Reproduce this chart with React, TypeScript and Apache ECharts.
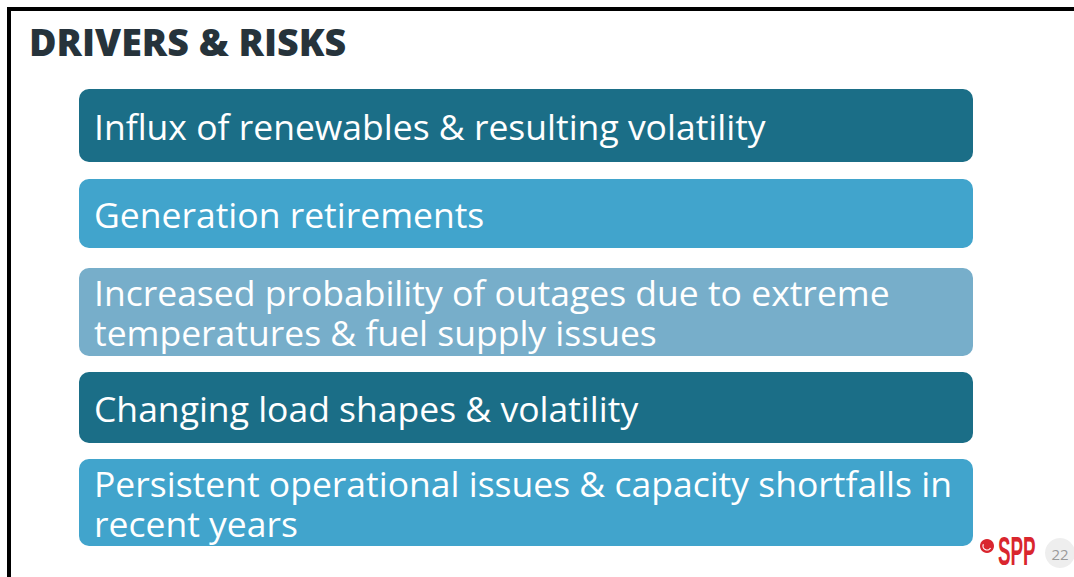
import React, { useEffect, useRef } from "react";
import * as echarts from "echarts";

const titleText = "DRIVERS & RISKS";
const itemLines: string[][] = [
  ["Influx of renewables & resulting volatility"],
  ["Generation retirements"],
  ["Increased probability of outages due to extreme", "temperatures & fuel supply issues"],
  ["Changing load shapes & volatility"],
  ["Persistent operational issues & capacity shortfalls in", "recent years"],
];
const itemColors = ["#1b6e87", "#41a4cc", "#77aeca", "#1b6e87", "#41a4cc"];
const boxTops = [89, 179, 268, 372, 459];
const boxBottoms = [162, 248, 356, 443, 546];
const pageNumber = "22";
const logoText = "SPP";

export default function App() {
  const ref = useRef<HTMLDivElement>(null);
  useEffect(() => {
    if (!ref.current) return;
    const chart = echarts.init(ref.current, undefined, { renderer: "svg" });
    const elements: any[] = [];
    // frame
    elements.push({ type: "rect", shape: { x: 7, y: 7, width: 1074, height: 4 }, style: { fill: "#000" } });
    elements.push({ type: "rect", shape: { x: 7, y: 7, width: 4, height: 580 }, style: { fill: "#000" } });
    elements.push({
      type: "text",
      x: 29,
      y: 41,
      style: {
        text: titleText,
        fill: "#26333b",
        font: "800 37.6px 'Open Sans'",
        textVerticalAlign: "middle",
      },
    });
    const lineGap = 40;
    itemLines.forEach((lines, i) => {
      const top = boxTops[i];
      const h = boxBottoms[i] - top;
      elements.push({
        type: "rect",
        shape: { x: 79, y: top, width: 894, height: h, r: 10 },
        style: { fill: itemColors[i] },
      });
      const mid = top + h / 2;
      lines.forEach((ln, j) => {
        elements.push({
          type: "text",
          x: 94,
          y: mid + (j - (lines.length - 1) / 2) * lineGap,
          style: {
            text: ln,
            fill: "#ffffff",
            font: "35.5px 'Open Sans'",
            lineHeight: 38,
            textVerticalAlign: "middle",
          },
        });
      });
    });
    // logo
    elements.push({ type: "circle", shape: { cx: 987, cy: 546, r: 7 }, style: { fill: "#d9262e" } });
    elements.push({
      type: "arc",
      shape: { cx: 987, cy: 546, r: 4, startAngle: 0.5, endAngle: 3.6 },
      style: { stroke: "#ffffff", lineWidth: 1.2, fill: "none" },
    });
    elements.push({
      type: "text",
      x: 998,
      y: 552,
      scaleX: 0.47,
      style: {
        text: logoText,
        fill: "#d9262e",
        font: "bold 40px 'Liberation Sans'",
        textVerticalAlign: "middle",
      },
    });
    elements.push({ type: "circle", shape: { cx: 1060, cy: 553, r: 15 }, style: { fill: "#eeeeee" } });
    elements.push({
      type: "text",
      x: 1060,
      y: 554,
      style: {
        text: pageNumber,
        fill: "#9a9a9a",
        font: "15px 'Open Sans'",
        textAlign: "center",
        textVerticalAlign: "middle",
      },
    });
    chart.setOption({ animation: false, backgroundColor: "#ffffff", graphic: { elements } });
    return () => chart.dispose();
  }, []);
  return (
    <div
      ref={ref}
      style={{ position: "fixed", left: 0, top: 0, width: 1074, height: 577 }}
    />
  );
}
